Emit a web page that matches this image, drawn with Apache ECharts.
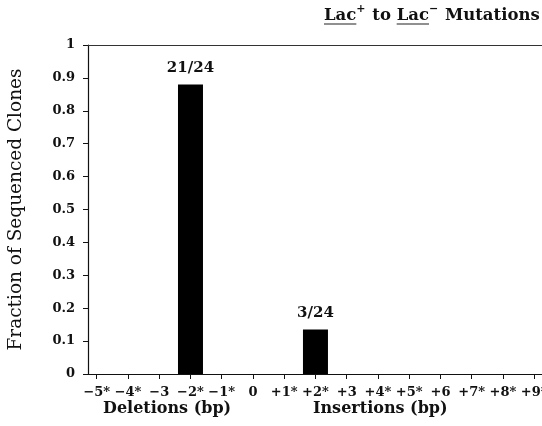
<!DOCTYPE html>
<html>
<head>
<meta charset="utf-8">
<script src="https://cdn.jsdelivr.net/npm/echarts@6/dist/echarts.min.js"></script>
<style>html,body{margin:0;padding:0;background:#fff}#c{width:542px;height:426px}</style>
</head>
<body>
<div id="c"></div>
<script>
const categories = ['−5*','−4*','−3','−2*','−1*','0','+1*','+2*','+3','+4*','+5*','+6','+7*','+8*','+9*'];
const positions = [-5,-4,-3,-2,-1,0,1,2,3,4,5,6,7,8,9];
const fractions = [0,0,0,0.88,0,0,0,0.135,0,0,0,0,0,0,0];
const barLabels = ['','','','21/24','','','','3/24','','','','','','',''];

const FONT = 'DejaVu Serif';
const chart = echarts.init(document.getElementById('c'), null, {renderer:'canvas'});
const barData = [];
positions.forEach((p,i)=>{ if (fractions[i] > 0) barData.push({value:[p, fractions[i]], label:{formatter: barLabels[i]}}); });
const labelMap = {};
positions.forEach((p,i)=>{ labelMap[p] = categories[i]; });

// Title built from pieces so underlines can be placed under "Lac"
const ctx = document.createElement('canvas').getContext('2d');
const mainFont = 'bold 16.5px "DejaVu Serif"';
const supFont = 'bold 11px "DejaVu Serif"';
const pieces = [
  {t:'Lac', f:mainFont, u:true, sup:false},
  {t:'+', f:supFont, u:false, sup:true},
  {t:' to ', f:mainFont, u:false, sup:false},
  {t:'Lac', f:mainFont, u:true, sup:false},
  {t:'−', f:supFont, u:false, sup:true},
  {t:' Mutations', f:mainFont, u:false, sup:false}
];
const titleGraphics = [];
let tx = 324;
pieces.forEach(p=>{
  ctx.font = p.f;
  const w = ctx.measureText(p.t).width;
  titleGraphics.push({type:'text', style:{x:tx, y: p.sup ? 4 : 7, text:p.t, font:p.f, fill:'#111'}});
  if (p.u) titleGraphics.push({type:'line', shape:{x1:tx, y1:24, x2:tx+w, y2:24}, style:{stroke:'#222', lineWidth:1.2}});
  tx += w + (p.sup ? 1 : 0);
});

chart.setOption({
  animation:false,
  backgroundColor:'#fff',
  graphic:titleGraphics.concat([
    {type:'text', left:103, top:401, style:{text:'Deletions (bp)', font:'bold 16px "DejaVu Serif"', fill:'#111'}},
    {type:'text', left:313, top:401, style:{text:'Insertions (bp)', font:'bold 16px "DejaVu Serif"', fill:'#111'}}
  ]),
  grid:{left:88, right:0, top:45, bottom:52, containLabel:false, outerBoundsMode:'none'},
  xAxis:[{
    type:'value', min:-5.28, max:9.25,
    axisLine:{show:true, onZero:false, lineStyle:{color:'#111', width:1.2}},
    axisTick:{show:true, customValues:positions, length:5, lineStyle:{color:'#111'}},
    axisLabel:{show:true, customValues:positions, margin:12, formatter:v=>labelMap[v]!==undefined?labelMap[v]:'',
      fontFamily:FONT, fontSize:13, fontWeight:'bold', color:'#111', hideOverlap:false},
    splitLine:{show:false}
  },{
    type:'value', position:'top', min:-5.28, max:9.25,
    axisLine:{show:true, onZero:false, lineStyle:{color:'#333', width:1}},
    axisTick:{show:false}, axisLabel:{show:false}, splitLine:{show:false}
  }],
  yAxis:{
    type:'value', min:0, max:1, interval:0.1,
    name:'Fraction of Sequenced Clones', nameLocation:'middle', nameGap:62,
    nameTextStyle:{fontFamily:FONT, fontSize:18.5, color:'#111'},
    axisLine:{show:true, onZero:false, lineStyle:{color:'#111', width:1.2}},
    axisTick:{show:true, length:5, lineStyle:{color:'#111'}},
    axisLabel:{margin:13, fontFamily:FONT, fontSize:13, fontWeight:'bold', color:'#111',
      formatter:v=>String(Math.round(v*10)/10)},
    splitLine:{show:false}
  },
  series:[{
    type:'bar', xAxisIndex:0, barWidth:25,
    itemStyle:{color:'#000'},
    label:{show:true, position:'top', distance:9, fontFamily:FONT, fontSize:15, fontWeight:'bold', color:'#111'},
    data:barData
  }]
});
</script>
</body>
</html>
